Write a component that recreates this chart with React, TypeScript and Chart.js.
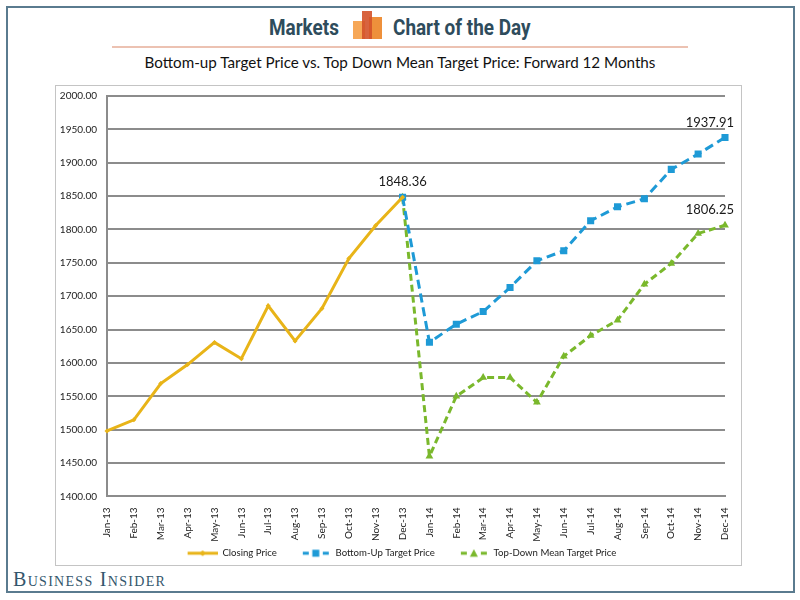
import React, { useEffect, useRef } from "react";
import { Chart, registerables } from "chart.js";

Chart.register(...registerables);

const months = [
  "Jan-13", "Feb-13", "Mar-13", "Apr-13", "May-13", "Jun-13", "Jul-13", "Aug-13", "Sep-13", "Oct-13", "Nov-13", "Dec-13",
  "Jan-14", "Feb-14", "Mar-14", "Apr-14", "May-14", "Jun-14", "Jul-14", "Aug-14", "Sep-14", "Oct-14", "Nov-14", "Dec-14",
];

const closingPrice = [
  1498.11, 1514.68, 1569.19, 1597.57, 1630.74, 1606.28, 1685.73, 1632.97, 1681.55, 1756.54, 1805.81, 1848.36,
  null, null, null, null, null, null, null, null, null, null, null, null,
];

const bottomUpTarget = [
  null, null, null, null, null, null, null, null, null, null, null, 1848.36,
  1631, 1658, 1677, 1713, 1753, 1768, 1813, 1834, 1846, 1890, 1913, 1937.91,
];

const topDownTarget = [
  null, null, null, null, null, null, null, null, null, null, null, 1848.36,
  1460, 1550, 1578, 1578, 1541, 1610, 1641, 1664, 1718, 1749, 1794, 1806.25,
];

const seriesNames = ["Closing Price", "Bottom-Up Target Price", "Top-Down Mean Target Price"];
const seriesColors = ["#e8b418", "#1e9ad6", "#7ab82c"];

const yMin = 1400;
const yMax = 2000;
const yStep = 50;

// which points carry a value label: [datasetIndex, pointIndex]
const labelledPoints: [number, number][] = [
  [0, 11],
  [1, 23],
  [2, 23],
];

function legendIcon(color: string, kind: "diamond" | "square" | "triangle"): HTMLCanvasElement {
  const c = document.createElement("canvas");
  c.width = 48;
  c.height = 12;
  const ctx = c.getContext("2d")!;
  const x0 = 18;
  const x1 = 48;
  const cy = 6;
  const cx = (x0 + x1) / 2;
  ctx.strokeStyle = color;
  ctx.fillStyle = color;
  ctx.lineWidth = 3;
  if (kind === "diamond") {
    ctx.beginPath();
    ctx.moveTo(x0, cy);
    ctx.lineTo(x1, cy);
    ctx.stroke();
    ctx.beginPath();
    ctx.moveTo(cx, cy - 3);
    ctx.lineTo(cx + 3, cy);
    ctx.lineTo(cx, cy + 3);
    ctx.lineTo(cx - 3, cy);
    ctx.closePath();
    ctx.fill();
  } else {
    ctx.beginPath();
    ctx.moveTo(x0 + 2, cy);
    ctx.lineTo(x0 + 8, cy);
    ctx.moveTo(x1 - 8, cy);
    ctx.lineTo(x1 - 2, cy);
    ctx.stroke();
    ctx.beginPath();
    if (kind === "square") {
      ctx.rect(cx - 3.5, cy - 3.5, 7, 7);
    } else {
      ctx.moveTo(cx, cy - 4);
      ctx.lineTo(cx + 4, cy + 3.5);
      ctx.lineTo(cx - 4, cy + 3.5);
      ctx.closePath();
    }
    ctx.fill();
  }
  return c;
}

const valueLabelPlugin = {
  id: "valueLabels",
  afterDatasetsDraw(chart: any) {
    const ctx = chart.ctx;
    ctx.save();
    ctx.font = "13px Lato";
    ctx.fillStyle = "#1a1a1a";
    ctx.textBaseline = "middle";
    ctx.textAlign = "center";
    labelledPoints.forEach(([di, pi]) => {
      const v = chart.data.datasets[di].data[pi] as number;
      const x = chart.scales.x.getPixelForValue(pi);
      const y = chart.scales.y.getPixelForValue(v);
      const text = v.toFixed(2);
      const w = ctx.measureText(text).width;
      let cx = x;
      if (cx + w / 2 > chart.chartArea.right + 9) cx = chart.chartArea.right + 9 - w / 2;
      ctx.fillText(text, cx, y - 15);
    });
    ctx.restore();
  },
};

function ChartCanvas() {
  const ref = useRef<HTMLCanvasElement | null>(null);
  useEffect(() => {
    if (!ref.current) return;
    const icons = [
      legendIcon(seriesColors[0], "diamond"),
      legendIcon(seriesColors[1], "square"),
      legendIcon(seriesColors[2], "triangle"),
    ];
    const chart = new Chart(ref.current, {
      type: "line",
      data: {
        labels: months,
        datasets: [
          {
            label: seriesNames[0],
            data: closingPrice,
            borderColor: seriesColors[0],
            backgroundColor: seriesColors[0],
            borderWidth: 3,
            pointStyle: "rectRot",
            pointRadius: 2.5,
            pointBorderWidth: 0,
            tension: 0,
          },
          {
            label: seriesNames[1],
            data: bottomUpTarget,
            borderColor: seriesColors[1],
            backgroundColor: seriesColors[1],
            borderWidth: 3,
            borderDash: [9, 5],
            pointStyle: "rect",
            pointRadius: 5,
            pointBorderWidth: 0,
            tension: 0,
          },
          {
            label: seriesNames[2],
            data: topDownTarget,
            borderColor: seriesColors[2],
            backgroundColor: seriesColors[2],
            borderWidth: 3,
            borderDash: [7, 4],
            pointStyle: "triangle",
            pointRadius: 4.5,
            pointBorderWidth: 0,
            tension: 0,
          },
        ],
      },
      options: {
        animation: false,
        responsive: false,
        maintainAspectRatio: false,
        layout: { padding: { top: 3, right: 10, left: 0, bottom: 0 } },
        scales: {
          x: {
            type: "category",
            offset: false,
            grid: { display: false },
            border: { display: true, color: "#8c8c8c", width: 2 },
            ticks: {
              minRotation: 90,
              maxRotation: 90,
              autoSkip: false,
              padding: 3,
              color: "#222",
              font: { family: "Lato", size: 10 },
            },
            afterFit(scale: any) {
              scale.height = 46;
            },
          },
          y: {
            min: yMin,
            max: yMax,
            grid: { color: "#8c8c8c", lineWidth: 2, drawTicks: false },
            border: { display: true, color: "#8c8c8c", width: 2 },
            ticks: {
              stepSize: yStep,
              padding: 10,
              color: "#222",
              font: { family: "Lato", size: 10 },
              callback: (v: any) => Number(v).toFixed(2),
            },
            afterFit(scale: any) {
              scale.width = 51;
            },
          },
        },
        plugins: {
          legend: {
            position: "bottom",
            labels: {
              usePointStyle: true,
              pointStyleWidth: 48,
              boxHeight: 10,
              padding: 6,
              color: "#222",
              font: { family: "Lato", size: 9.6 },
              generateLabels(c: any) {
                const items = Chart.defaults.plugins.legend.labels.generateLabels(c);
                items.forEach((it: any, i: number) => {
                  it.pointStyle = icons[i];
                  it.rotation = 0;
                  it.lineWidth = 0;
                });
                return items;
              },
            },
          },
          tooltip: { enabled: false },
        },
      } as any,
      plugins: [valueLabelPlugin],
    });
    return () => chart.destroy();
  }, []);
  return (
    <canvas
      ref={ref}
      width={684}
      height={488}
      style={{ position: "absolute", left: 56, top: 80, width: 684, height: 488 }}
    />
  );
}

export default function App() {
  return (
    <div
      style={{
        position: "absolute",
        left: 0,
        top: 0,
        width: 800,
        height: 600,
        background: "#fff",
        overflow: "hidden",
        fontFamily: "Lato, sans-serif",
      }}
    >
      {/* outer frame */}
      <div
        style={{
          position: "absolute",
          left: 6,
          top: 6,
          width: 789,
          height: 587,
          border: "2px solid #5a7b8f",
          boxSizing: "border-box",
        }}
      />
      {/* header */}
      <div
        style={{
          position: "absolute",
          left: 269,
          top: 14,
          fontFamily: "Roboto",
          fontWeight: 700,
          fontSize: 22,
          color: "#2e4c5c",
          transform: "scaleX(0.86)",
          transformOrigin: "left top",
          whiteSpace: "nowrap",
          lineHeight: "28px",
        }}
      >
        Markets
      </div>
      <div style={{ position: "absolute", left: 353, top: 21, width: 12, height: 18, background: "#f5a24e", opacity: 0.95 }} />
      <div style={{ position: "absolute", left: 369, top: 17, width: 13, height: 22, background: "#ed8a30", opacity: 0.95 }} />
      <div style={{ position: "absolute", left: 362, top: 11, width: 10, height: 28, background: "#d4522a", opacity: 0.9 }} />
      <div
        style={{
          position: "absolute",
          left: 393,
          top: 14,
          fontFamily: "Roboto",
          fontWeight: 700,
          fontSize: 22,
          color: "#2e4c5c",
          transform: "scaleX(0.86)",
          transformOrigin: "left top",
          whiteSpace: "nowrap",
          lineHeight: "28px",
        }}
      >
        Chart of the Day
      </div>
      <div style={{ position: "absolute", left: 112, top: 46, width: 576, height: 2, background: "#ecc2b2" }} />
      <div
        style={{
          position: "absolute",
          left: 0,
          width: 800,
          top: 52,
          textAlign: "center",
          fontFamily: "Lato",
          fontSize: 15.2,
          color: "#111",
          lineHeight: "20px",
          whiteSpace: "nowrap",
        }}
      >
        Bottom-up Target Price vs. Top Down Mean Target Price: Forward 12 Months
      </div>
      {/* inner chart box */}
      <div
        style={{
          position: "absolute",
          left: 55,
          top: 85,
          width: 687,
          height: 481,
          border: "1px solid #c4c4c4",
          boxSizing: "border-box",
        }}
      />
      <ChartCanvas />
      <div
        style={{
          position: "absolute",
          left: 13,
          top: 568,
          fontFamily: "Liberation Serif",
          fontSize: 20,
          fontVariant: "small-caps",
          color: "#33566c",
          letterSpacing: 1.3,
          lineHeight: "22px",
          whiteSpace: "nowrap",
        }}
      >
        Business Insider
      </div>
    </div>
  );
}
